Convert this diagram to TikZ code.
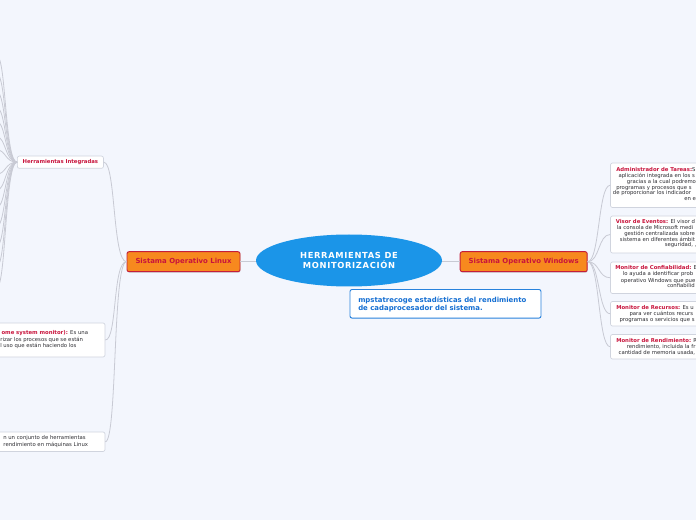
\documentclass[tikz,border=0pt]{standalone}
\usepackage{fontspec}
\setmainfont{DejaVu Sans}
\usetikzlibrary{shapes.geometric,fit,shadows}
\definecolor{bg}{RGB}{243,246,253}
\definecolor{crim}{RGB}{200,20,60}
\definecolor{orng}{RGB}{247,137,30}
\definecolor{obrd}{RGB}{196,30,58}
\definecolor{cblue}{RGB}{27,149,232}
\definecolor{nblue}{RGB}{40,130,220}
\definecolor{ntext}{RGB}{20,110,210}
\definecolor{lgray}{RGB}{200,202,212}
\definecolor{bgray}{RGB}{208,212,222}
\definecolor{dtext}{RGB}{45,45,50}
\newcommand{\kw}[1]{\textcolor{crim}{\bfseries #1}}
\newcommand{\tline}[5]{\node[txt, anchor=base #5] (#1) at (#2,#3) {#4};}
\tikzset{
  conn/.style={draw=lgray, line width=0.6pt},
  leaf/.style={draw=bgray, fill=white, rounded corners=1.5pt, line width=0.5pt, inner sep=0pt},
  txt/.style={inner sep=0pt, font=\fontsize{4}{4.4}\selectfont, text=dtext},
  obox/.style={draw=obrd, fill=orng, rounded corners=1.5pt, line width=0.7pt,
     text=crim, font=\bfseries\fontsize{5.2}{6}\selectfont, inner sep=0pt,
     drop shadow={opacity=0.25, shadow xshift=0.4pt, shadow yshift=-0.8pt}},
}
\begin{document}
\begin{tikzpicture}[x=0.75pt,y=-0.75pt]
\fill[bg] (0,0) rectangle (696,520);
\useasboundingbox (0,0) rectangle (696,520);
\begin{scope}
\clip (0,0) rectangle (696,520);

% central
\node[ellipse, fill=cblue, minimum width=139.5pt, minimum height=39pt, inner sep=0pt,
  text=white, align=center, font=\bfseries\fontsize{6.25}{7.9}\selectfont\addfontfeature{LetterSpace=8}] (root) at (349,260.5)
  {HERRAMIENTAS DE\\MONITORIZACIÓN};

% main branches
\node[obox, minimum width=84.75pt, minimum height=15pt] (lin) at (183.5,261.7) {Sistama Operativo Linux};
\node[obox, minimum width=95.25pt, minimum height=15pt] (win) at (523.7,261.7) {Sistama Operativo Windows};

% note
\node[draw=nblue, fill=white, rounded corners=1.5pt, line width=0.7pt, minimum width=143.25pt,
  minimum height=21.4pt, inner sep=0pt] (note) at (445.5,303.8) {};
\node[anchor=west, inner sep=0pt, align=left, text=ntext, font=\bfseries\fontsize{5.2}{6}\selectfont]
  (notetext) at (358,304.5) {mpstatrecoge estadísticas del rendimiento\\de cadaprocesador del sistema.};

% Linux children
\node[leaf, minimum width=64.6pt, minimum height=9.2pt, text=crim, font=\bfseries\fontsize{4}{4.4}\selectfont]
  (hi) at (60.4,162.2) {Herramientas Integradas};
\node[leaf, fit={(-40,323)(105,357)}] (lb2) {};
\node[leaf, fit={(-40,432)(105,451.5)}] (lb3) {};
\tline{l2a}{88.3}{334.6}{\kw{ome system monitor):} Es una}{east}
\tline{l2b}{83.3}{341.2}{torizar los procesos que se están}{east}
\tline{l2c}{76.7}{347.8}{el uso que están haciendo los}{east}
\tline{l3a}{86}{439.4}{n un conjunto de herramientas}{east}
\tline{l3b}{88.3}{446}{rendimiento en máquinas Linux}{east}

% Windows children
\node[leaf, fit={(610.5,163)(740,207.5)}] (w1) {};
\node[leaf, fit={(610.5,216)(740,253)}] (w2) {};
\node[leaf, fit={(610.5,262)(740,293.5)}] (w3) {};
\node[leaf, fit={(610.5,301.5)(740,326)}] (w4) {};
\node[leaf, fit={(610.5,334.5)(740,359)}] (w5) {};

\tline{w1a}{616}{171.7}{\kw{Administrador de Tareas:}S}{west}
\tline{w1b}{618.3}{177.5}{aplicación integrada en los s}{west}
\tline{w1c}{626.7}{183.3}{gracias a la cual podremo}{west}
\tline{w1d}{616}{189.1}{programas y procesos que s}{west}
\tline{w1e}{612.7}{194.9}{de proporcionar los indicador}{west}
\tline{w1f}{684}{200.7}{en e}{west}

\tline{w2a}{615.5}{223.4}{\kw{Visor de Eventos:} El visor d}{west}
\tline{w2b}{616.7}{229.3}{la consola de Microsoft medi}{west}
\tline{w2c}{624}{235.2}{gestión centralizada sobre}{west}
\tline{w2d}{619.7}{241.1}{sistema en diferentes ámbit}{west}
\tline{w2e}{664.5}{247}{seguridad, ,}{west}

\tline{w3a}{615}{270}{\kw{Monitor de Confiabilidad:} E}{west}
\tline{w3b}{622.7}{276}{lo ayuda a identificar prob}{west}
\tline{w3c}{620.7}{282}{operativo Windows que pue}{west}
\tline{w3d}{667}{288}{confiabilid}{west}

\tline{w4a}{616}{309.4}{\kw{Monitor de Recursos:} Es u}{west}
\tline{w4b}{629.3}{315.4}{para ver cuántos recurs}{west}
\tline{w4c}{619.3}{321.4}{programas o servicios que s}{west}

\tline{w5a}{616}{342.5}{\kw{Monitor de Rendimiento:} R}{west}
\tline{w5b}{626.5}{348.6}{rendimiento, incluida la fr}{west}
\tline{w5c}{618.3}{354.7}{cantidad de memoria usada,}{west}

% off-screen children of Herramientas Integradas
\foreach \i/\yy in {1/56,2/74,3/92,4/108,5/122,6/137,7/150,8/174,9/190,10/207,11/226,12/246,13/266,14/287}{
  \coordinate (h\i) at (-3,\yy);
}

% connectors
\draw[conn] (root.west |- lin.east) -- (lin.east);
\draw[conn] (root.east |- win.west) -- (win.west);
\foreach \t in {hi,lb2,lb3}{
  \draw[conn] (lin.west) .. controls +(-14,0) and +(12,0) .. (\t.east);
}
\foreach \t in {w1,w2,w3,w4,w5}{
  \draw[conn] (win.east) .. controls +(12,0) and +(-12,0) .. (\t.west);
}
\foreach \i in {1,...,14}{
  \draw[conn] (hi.west) .. controls +(-12,0) and +(9,0) .. (h\i);
}
\end{scope}
\end{tikzpicture}
\end{document}
